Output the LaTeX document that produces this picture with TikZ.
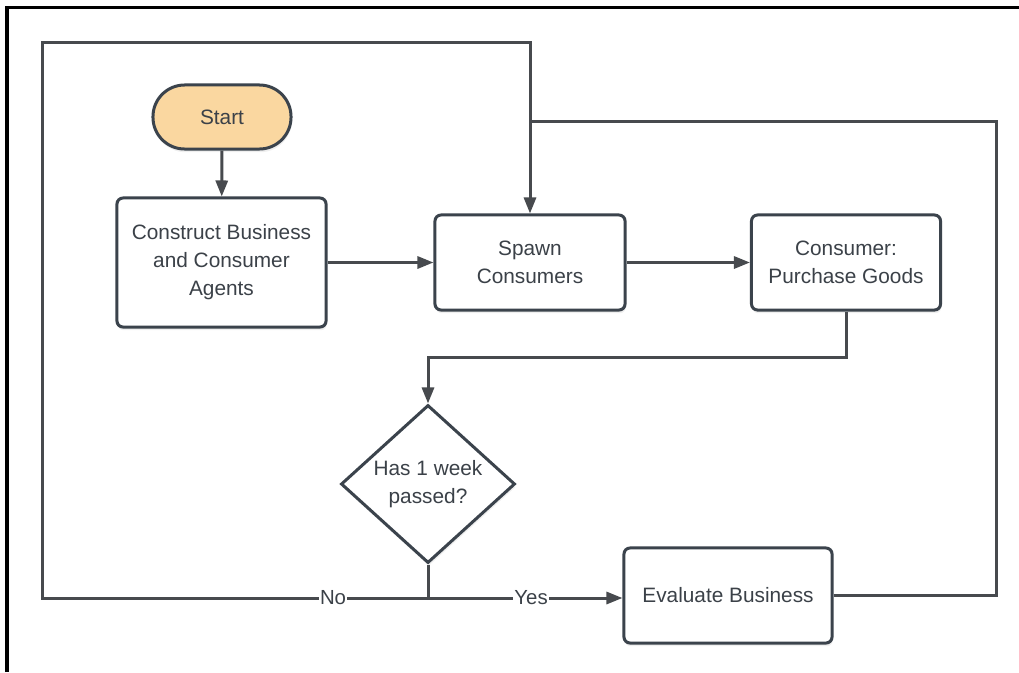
\documentclass[tikz,border=0pt]{standalone}
\usepackage{fontspec}
\setmainfont{Liberation Sans}
\usetikzlibrary{arrows.meta,shapes.geometric,shadows}
\definecolor{bordercol}{HTML}{3B434C}
\definecolor{linecol}{HTML}{474A4E}
\definecolor{txtcol}{HTML}{3B4148}
\definecolor{startfill}{HTML}{FAD7A0}
\begin{document}
\begin{tikzpicture}[x=0.025cm,y=-0.025cm,
  every node/.style={text=txtcol},
  basebox/.style={draw=bordercol, line width=0.075cm, fill=white, inner sep=0pt, align=center,
    font=\fontsize{14.8}{19.9}\selectfont,
    drop shadow={opacity=0.12, shadow xshift=0.02cm, shadow yshift=-0.08cm}},
  box/.style={basebox, rounded corners=0.15cm},
  startbox/.style={basebox, rounded corners=0.79cm, fill=startfill},
  decision/.style={basebox, diamond, aspect=1.1, drop shadow={opacity=0}},
  conn/.style={draw=linecol, line width=0.075cm},
  arr/.style={conn, -{Triangle[length=0.4cm,width=0.3cm]}},
  lbl/.style={fill=white, inner sep=1pt, font=\fontsize{14.5}{16}\selectfont}
]
\useasboundingbox (0,0) rectangle (1019,672);
\fill[white] (0,0) rectangle (1019,672);

% frame
\coordinate (fb) at (7,672);
\coordinate (fc) at (7,7);
\coordinate (fr) at (1019,7);
\draw[black, line width=0.075cm] (fb) -- (fc) -- (fr);

% nodes
\node[startbox, minimum width=3.45cm, minimum height=1.6cm] (start) at (222,117) {Start};
\node[box, minimum width=5.225cm, minimum height=3.225cm] (construct) at (221.5,262.5) {Construct Business\\and Consumer\\Agents};
\node[box, minimum width=4.75cm, minimum height=2.375cm] (spawn) at (530,262.5) {Spawn\\Consumers};
\node[box, minimum width=4.725cm, minimum height=2.375cm] (consumer) at (846,262.5) {Consumer:\\Purchase Goods};
\node[decision, minimum width=4.35cm, minimum height=3.95cm] (week) at (428,484) {Has 1 week\\passed?};
\node[box, minimum width=5.2cm, minimum height=2.375cm] (eval) at (728,595.5) {Evaluate Business};

% helper coordinates
\coordinate (j) at (428,598);
\coordinate (nl) at (42,598);
\coordinate (tl) at (42,42);
\coordinate (rc) at (996,121);
\coordinate (jt) at (530,121);
\coordinate (cb) at (846,357);

% connectors
\draw[arr] (start) -- (construct);
\draw[arr] (construct) -- (spawn);
\draw[arr] (spawn) -- (consumer);
\draw[arr] (consumer.south) -- (cb) -| (week.north);
\draw[conn] (week.south) -- (j);
\draw[arr] (j) -- node[lbl, pos=0.53] {Yes} (j -| eval.west);
\draw[arr] (j) -- node[lbl, pos=0.246] {No} (nl) -- (tl) -| (spawn.north);
\draw[conn] (eval.east) -| (rc) -- (jt);
\end{tikzpicture}
\end{document}
